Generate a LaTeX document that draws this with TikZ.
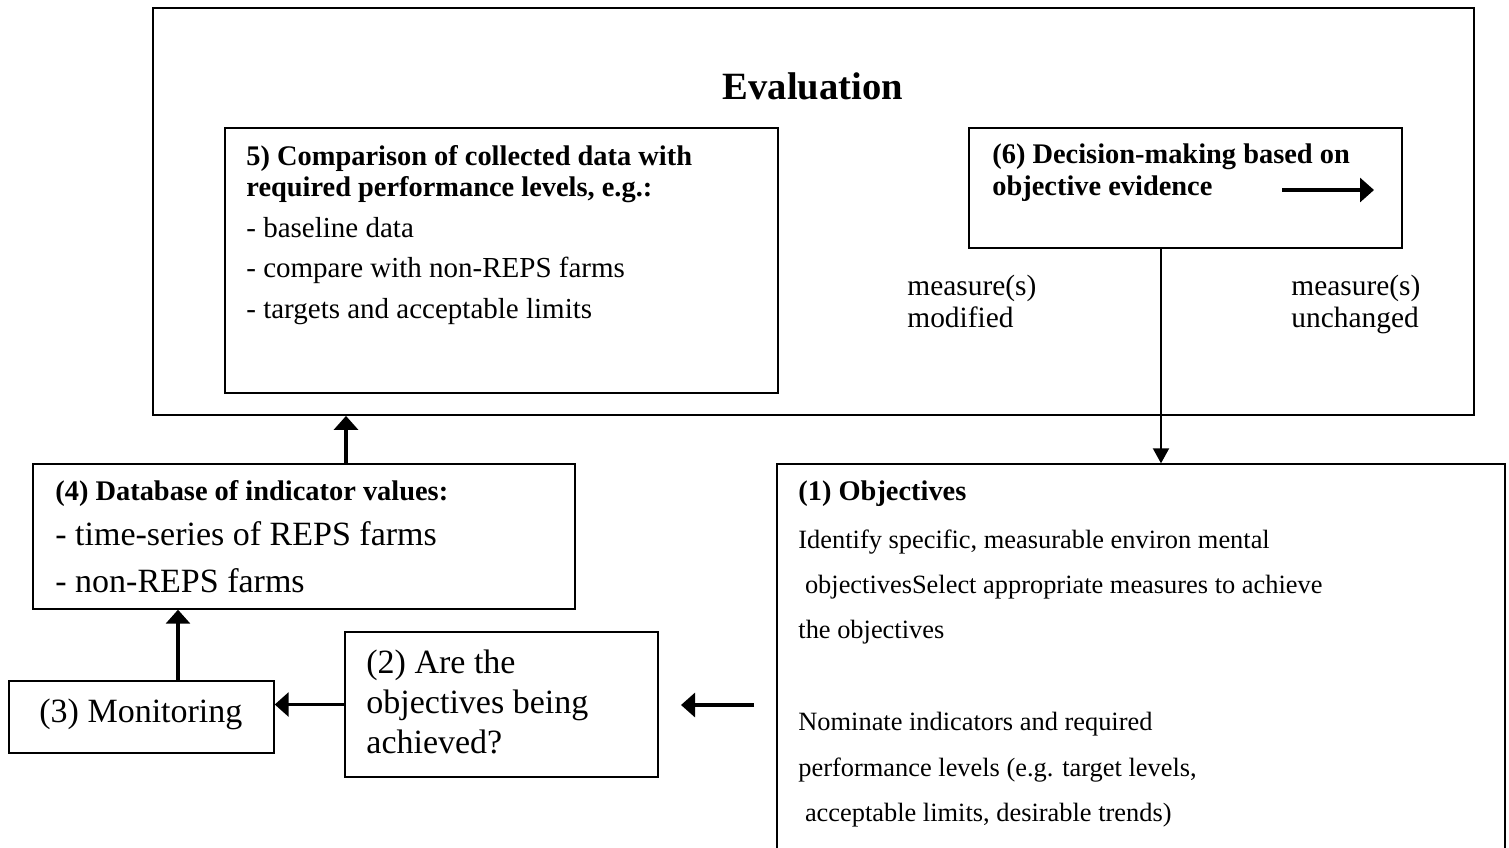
\documentclass[tikz,border=0pt]{standalone}
\usepackage{fontspec}
\setmainfont{Liberation Serif}
\usetikzlibrary{arrows.meta,fit}

\begin{document}
\begin{tikzpicture}[x=0.5pt,y=-0.5pt,
    box/.style={draw,line width=0.7pt,inner sep=0pt},
    txt/.style={inner sep=0pt,anchor=base west},
    head/.style={txt,font=\fontsize{14.2}{16}\selectfont\bfseries},
    arr/.style={line width=1.6pt,-{Triangle[length=7pt,width=12pt]}},
    thinarr/.style={line width=1pt,-{Triangle[length=7.5pt,width=8pt]}}]
        \useasboundingbox (0,0) rectangle (1509,847);

        % Evaluation frame with its title
        \node[box,line width=0.9pt,fit={(153,8)(1474,415)}] (eval) {};
        \node[inner sep=0pt,anchor=base,font=\fontsize{19.3}{22}\selectfont\bfseries] (evaltitle) at (813,99) {Evaluation};

        % (5) comparison box
        \node[box,fit={(225,128)(778,393)}] (cmp) {};
        \node[head] (cmpa) at (246,165) {5) Comparison of collected data with};
        \node[head] (cmpb) at (246,196) {required performance levels, e.g.:};
        \node[txt,font=\fontsize{14.5}{17}\selectfont] (cmpc) at (246,237) {- baseline data};
        \node[txt,font=\fontsize{14.5}{17}\selectfont] (cmpd) at (246,277) {- compare with non-REPS farms};
        \node[txt,font=\fontsize{14.5}{17}\selectfont] (cmpe) at (246,318) {- targets and acceptable limits};

        % (6) decision box
        \node[box,fit={(969,128)(1402,248)}] (dec) {};
        \node[head] (deca) at (992,163) {(6) Decision-making based on};
        \node[head] (decb) at (992,195) {objective evidence};
        \coordinate (decfrom) at (1282,190);
        \coordinate (decto) at (1374,190);
        \draw[arr] (decfrom) -- (decto);

        % labels beside the decision line
        \node[txt,font=\fontsize{14.7}{17}\selectfont] (moda) at (907,295) {measure(s)};
        \node[txt,font=\fontsize{14.7}{17}\selectfont] (modb) at (907,327) {modified};
        \node[txt,font=\fontsize{14.7}{17}\selectfont] (unca) at (1291,295) {measure(s)};
        \node[txt,font=\fontsize{14.7}{17}\selectfont] (uncb) at (1291,327) {unchanged};

        % (4) database box
        \node[box,fit={(33,464)(575,609)}] (db) {};
        \node[head] (dba) at (55,500) {(4) Database of indicator values:};
        \node[txt,font=\fontsize{17}{20}\selectfont] (dbb) at (55,545) {- time-series of REPS farms};
        \node[txt,font=\fontsize{17}{20}\selectfont] (dbc) at (55,592) {- non-REPS farms};

        % (3) monitoring and (2) question
        \node[box,fit={(9,681)(274,753)}] (mon) {};
        \node[txt,font=\fontsize{17}{20}\selectfont] (mona) at (39,722) {(3) Monitoring};
        \node[box,fit={(345,632)(658,777)}] (ach) {};
        \node[txt,font=\fontsize{17}{20}\selectfont] (acha) at (366,673) {(2) Are the};
        \node[txt,font=\fontsize{17}{20}\selectfont] (achb) at (366,713) {objectives being};
        \node[txt,font=\fontsize{17}{20}\selectfont] (achc) at (366,753) {achieved?};

        % (1) objectives box, runs off the bottom
        \node[box,fit={(777,464)(1505,900)}] (obj) {};
        \node[head] (obja) at (798,500) {(1) Objectives};
        \node[txt,font=\fontsize{13.2}{16}\selectfont] (objb) at (798,548) {Identify specific, measurable environ mental};
        \node[txt,font=\fontsize{13.2}{16}\selectfont] (objc) at (798,593) {\ objectivesSelect appropriate measures to achieve};
        \node[txt,font=\fontsize{13.2}{16}\selectfont] (objd) at (798,638) {the objectives};
        \node[txt,font=\fontsize{13.2}{16}\selectfont] (obje) at (798,730) {Nominate indicators and required};
        \node[txt,font=\fontsize{13.2}{16}\selectfont] (objf) at (798,776) {performance levels (e.g. target levels,};
        \node[txt,font=\fontsize{13.2}{16}\selectfont] (objg) at (798,821) {\ acceptable limits, desirable trends)};

        % connectors
        \draw[arr] ([xshift=21pt]db.north) -- ([xshift=21pt]db.north |- eval.south);
        \draw[arr] ([xshift=18.25pt]mon.north) -- ([xshift=18.25pt]mon.north |- db.south);
        \draw[arr] (ach.west) -- (mon.east |- ach.west);
        \draw[thinarr] ([xshift=-12.25pt]dec.south) -- ([xshift=-12.25pt]dec.south |- obj.north);
        \coordinate (loosefrom) at (754,705);
        \coordinate (looseto) at (681,705);
        \draw[arr] (loosefrom) -- (looseto);
    \end{tikzpicture}
\end{document}
